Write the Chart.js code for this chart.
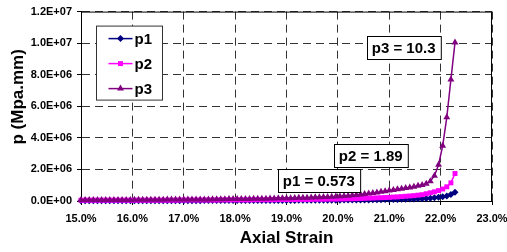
<!DOCTYPE html>
<html>
<head>
<meta charset="utf-8">
<script src="https://cdn.jsdelivr.net/npm/chart.js@4/dist/chart.umd.min.js"></script>
<style>
  html, body { margin: 0; padding: 0; background: #fff; }
  canvas { display: block; }
</style>
</head>
<body>
<canvas id="strainChart" width="507" height="252"></canvas>
<script>
// axial strain, in %
var strain = [
  15.00,15.08,15.16,15.24,15.32,15.40,15.48,15.56,15.64,15.72,
  15.80,15.88,15.96,16.04,16.12,16.20,16.28,16.36,16.44,16.52,
  16.60,16.68,16.76,16.84,16.92,17.00,17.08,17.16,17.24,17.32,
  17.40,17.48,17.56,17.64,17.72,17.80,17.88,17.96,18.04,18.12,
  18.20,18.28,18.36,18.44,18.52,18.60,18.68,18.76,18.84,18.92,
  19.00,19.08,19.16,19.24,19.32,19.40,19.48,19.56,19.64,19.72,
  19.80,19.88,19.96,20.04,20.12,20.20,20.28,20.36,20.44,20.52,
  20.60,20.68,20.76,20.84,20.92,21.00,21.08,21.16,21.24,21.32,
  21.40,21.48,21.56,21.64,21.72,21.80,21.88,21.96,22.04,22.12,
  22.20,22.28
];

// p values, in units of 1E+06 Mpa.mm
var p1 = [
  0.02,0.02,0.02,0.02,0.02,0.02,0.02,0.02,0.02,0.02,
  0.02,0.02,0.02,0.02,0.02,0.02,0.02,0.02,0.02,0.02,
  0.02,0.02,0.02,0.02,0.02,0.02,0.02,0.02,0.02,0.02,
  0.03,0.03,0.03,0.03,0.03,0.03,0.03,0.03,0.03,0.03,
  0.03,0.03,0.03,0.03,0.03,0.03,0.03,0.03,0.03,0.03,
  0.03,0.03,0.03,0.04,0.04,0.04,0.04,0.04,0.04,0.05,
  0.05,0.05,0.05,0.05,0.06,0.06,0.06,0.06,0.07,0.07,
  0.07,0.08,0.08,0.08,0.09,0.09,0.10,0.10,0.11,0.11,
  0.12,0.13,0.14,0.15,0.16,0.18,0.20,0.23,0.27,0.32,
  0.41,0.55
];
var p2 = [
  0.05,0.05,0.05,0.05,0.05,0.05,0.05,0.05,0.05,0.05,
  0.05,0.05,0.05,0.05,0.05,0.05,0.05,0.05,0.05,0.05,
  0.05,0.05,0.05,0.05,0.06,0.06,0.06,0.06,0.06,0.06,
  0.06,0.06,0.06,0.06,0.07,0.07,0.07,0.07,0.07,0.07,
  0.07,0.07,0.08,0.08,0.08,0.08,0.08,0.08,0.09,0.09,
  0.09,0.09,0.09,0.10,0.10,0.10,0.10,0.11,0.11,0.11,
  0.12,0.12,0.12,0.13,0.13,0.14,0.14,0.15,0.16,0.17,
  0.18,0.19,0.20,0.21,0.22,0.23,0.25,0.26,0.28,0.30,
  0.32,0.34,0.37,0.40,0.46,0.52,0.58,0.66,0.76,0.90,
  1.15,1.74
];
var p3 = [
  0.07,0.07,0.07,0.07,0.07,0.07,0.07,0.07,0.07,0.07,
  0.07,0.07,0.07,0.08,0.08,0.08,0.08,0.08,0.08,0.08,
  0.08,0.09,0.09,0.09,0.09,0.09,0.09,0.10,0.10,0.10,
  0.10,0.10,0.11,0.11,0.11,0.11,0.12,0.12,0.12,0.13,
  0.13,0.13,0.14,0.14,0.15,0.15,0.16,0.16,0.17,0.17,
  0.18,0.18,0.19,0.20,0.20,0.21,0.22,0.23,0.24,0.25,
  0.26,0.27,0.29,0.30,0.32,0.34,0.36,0.38,0.41,0.44,
  0.47,0.50,0.54,0.58,0.62,0.66,0.70,0.74,0.78,0.82,
  0.86,0.91,0.96,1.02,1.10,1.25,1.60,2.30,3.50,5.30,
  7.70,10.05
];

var seriesNames = ['p1', 'p2', 'p3'];
var seriesColors = ['#000080', '#ff00ff', '#800080'];
var seriesMarkers = ['rectRot', 'rect', 'triangle'];

// boxed labels: text, strain (%), p (1E+06)
var noteTexts = ['p3 = 10.3', 'p2 = 1.89', 'p1 = 0.573'];
var noteX = [21.28, 20.64, 19.63];
var noteY = [9.70, 2.89, 1.29];

var FONT = "'Liberation Sans', Arial, sans-serif";

function sciLabel(v) {
    var n = Math.round(v * 1e6);
    if (n === 0) return '0.0E+00';
    var e = Math.floor(Math.log10(n) + 1e-9);
    var m = n / Math.pow(10, e);
    return m.toFixed(1) + 'E+' + (e < 10 ? '0' : '') + e;
}

function makeDataset(idx, values) {
    var pts = [];
    for (var i = 0; i < strain.length; i++) {
        pts.push({x: strain[i], y: values[i]});
    }
    return {
        label: seriesNames[idx],
        data: pts,
        borderColor: seriesColors[idx],
        backgroundColor: seriesColors[idx],
        borderWidth: 1.5,
        pointStyle: seriesMarkers[idx],
        pointRadius: idx === 2 ? 4 : 3.5,
        pointBorderWidth: 0,
        pointBackgroundColor: seriesColors[idx],
        tension: 0,
        clip: false,
        order: 2 - idx
    };
}

var framePlugin = {
    id: 'frame',
    beforeDatasetsDraw: function (chart) {
        var a = chart.chartArea, ctx = chart.ctx;
        ctx.save();
        ctx.strokeStyle = '#000';
        ctx.lineWidth = 1;
        ctx.beginPath();
        ctx.moveTo(a.left, a.top + 0.5);
        ctx.lineTo(a.right - 0.5, a.top + 0.5);
        ctx.lineTo(a.right - 0.5, a.bottom);
        ctx.stroke();
        ctx.restore();
    }
};

var notesPlugin = {
    id: 'notes',
    afterDatasetsDraw: function (chart) {
        var ctx = chart.ctx, a = chart.chartArea;
        var xs = chart.scales.x, ys = chart.scales.y;
        ctx.save();
        ctx.font = 'bold 15px ' + FONT;
        ctx.textAlign = 'center';
        ctx.textBaseline = 'middle';
        ctx.lineWidth = 1;
        ctx.strokeStyle = '#000';
        for (var i = 0; i < noteTexts.length; i++) {
            var cx = xs.getPixelForValue(noteX[i]);
            var cy = ys.getPixelForValue(noteY[i]);
            var w = ctx.measureText(noteTexts[i]).width + 10;
            var h = 23;
            var bx = Math.round(cx - w / 2) + 0.5, by = Math.round(cy - h / 2) + 0.5;
            ctx.fillStyle = '#fff';
            ctx.fillRect(bx, by, w, h);
            ctx.strokeRect(bx, by, w, h);
            ctx.fillStyle = '#000';
            ctx.fillText(noteTexts[i], cx, cy + 1);
        }

        // legend box
        var lx = a.left + 15.5, ly = a.top + 14.5, lw = 66, lh = 74;
        ctx.fillStyle = '#fff';
        ctx.fillRect(lx, ly, lw, lh);
        ctx.strokeStyle = '#333';
        ctx.strokeRect(lx, ly, lw, lh);
        ctx.textAlign = 'left';
        for (var k = 0; k < seriesNames.length; k++) {
            var rowY = ly + 12.5 + k * 25;
            ctx.strokeStyle = seriesColors[k];
            ctx.lineWidth = 1.5;
            ctx.beginPath();
            ctx.moveTo(lx + 12, rowY);
            ctx.lineTo(lx + 36, rowY);
            ctx.stroke();
            ctx.fillStyle = seriesColors[k];
            Chart.helpers.drawPoint(ctx, {pointStyle: seriesMarkers[k], radius: k === 2 ? 4 : 3.5, borderWidth: 0}, lx + 24, rowY);
            ctx.fillStyle = '#000';
            ctx.fillText(seriesNames[k], lx + 38, rowY + 1);
        }
        ctx.restore();
    }
};

var chart = new Chart(document.getElementById('strainChart').getContext('2d'), {
    type: 'line',
    data: {
        datasets: [makeDataset(0, p1), makeDataset(1, p2), makeDataset(2, p3)]
    },
    options: {
        responsive: false,
        animation: false,
        layout: {padding: {top: 9, right: 15, bottom: 0, left: 0}},
        plugins: {legend: {display: false}, tooltip: {enabled: false}},
        scales: {
            x: {
                type: 'linear',
                min: 15,
                max: 23,
                afterFit: function (scale) {
                    scale.height = 51;
                    // the last tick label may hang into the right margin
                    scale.paddingRight = 0;
                    scale.paddingLeft = 0;
                },
                ticks: {
                    stepSize: 1,
                    color: '#000',
                    padding: 7,
                    maxRotation: 0,
                    font: {family: FONT, size: 11, weight: 'bold'},
                    callback: function (v) { return v.toFixed(1) + '%'; }
                },
                grid: {
                    color: '#333',
                    tickLength: 4,
                    tickColor: '#000'
                },
                border: {color: '#000', width: 1, dash: [8, 5]},
                title: {
                    display: true,
                    text: 'Axial Strain',
                    color: '#000',
                    font: {family: FONT, size: 17, weight: 'bold'},
                    padding: {top: 0, bottom: 3}
                }
            },
            y: {
                min: 0,
                max: 12,
                afterFit: function (scale) { scale.width = 81; },
                ticks: {
                    stepSize: 2,
                    color: '#000',
                    padding: 5,
                    font: {family: FONT, size: 11, weight: 'bold'},
                    callback: function (v) { return sciLabel(v); }
                },
                grid: {
                    color: '#333',
                    tickLength: 4,
                    tickColor: '#000'
                },
                border: {color: '#000', width: 1, dash: [8, 5]},
                title: {
                    display: true,
                    text: '    p (Mpa.mm)',
                    color: '#000',
                    font: {family: FONT, size: 17, weight: 'bold'},
                    padding: {top: 8, bottom: 0}
                }
            }
        }
    },
    plugins: [framePlugin, notesPlugin]
});
</script>
</body>
</html>
